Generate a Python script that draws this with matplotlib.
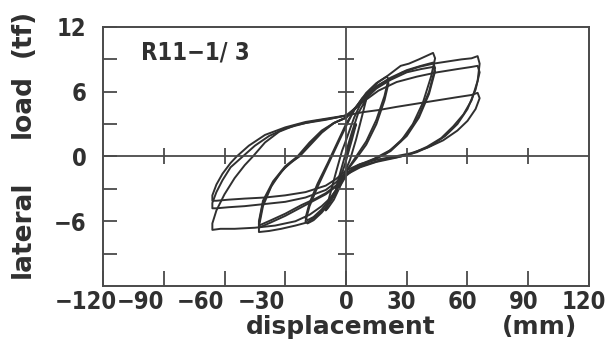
import numpy as np
import matplotlib
matplotlib.use("Agg")
import matplotlib.pyplot as plt
from matplotlib.ticker import FixedLocator
from matplotlib.transforms import ScaledTranslation

# hysteresis cycles: displacement (mm), lateral load (tf)
c1_x = [0, 2, 4, 5, 3, 0, -2, -4, -5, -3, 0]
c1_y = [0, 1.4, 2.6, 3.0, 1.6, -0.4, -1.6, -2.6, -3.0, -1.6, 0.4]

c2_x = [0, 3, 6, 9, 10, 8, 5, 2, 0, -3, -6, -9, -10, -8, -5, -2, 0]
c2_y = [0.4, 2.3, 4.0, 5.0, 5.3, 3.8, 1.6, -0.3, -1.2, -2.8, -4.0, -4.8, -5.0, -3.6, -1.5, 0.5, 1.5]

c3_x = [0, 4, 8, 12, 16, 20, 21, 19, 15, 10, 5, 0, -4, -8, -12, -16, -19, -20, -18, -14, -9, -5, -2, 0]
c3_y = [1.5, 3.6, 5.2, 6.2, 6.9, 7.4, 7.2, 5.6, 3.4, 1.4, 0.0, -1.4, -3.0, -4.3, -5.2, -5.9, -6.2, -6.0,
        -4.6, -2.8, -0.8, 0.8, 2.0, 2.8]

c4_x = [0, 4, 8, 12, 16, 20, 21, 19, 15, 10, 5, 0, -4, -8, -12, -16, -19, -20, -18, -14, -9, -5, -2, 0]
c4_y = [2.8, 4.3, 5.4, 6.1, 6.6, 7.0, 6.8, 5.2, 3.0, 1.1, -0.2, -1.4, -2.8, -4.0, -4.9, -5.6, -5.9, -5.7,
        -4.3, -2.5, -0.6, 1.0, 2.2, 3.0]

c5_x = [0, 5, 10, 15, 20, 27, 31, 36, 43, 44, 42, 38, 33, 27, 20, 12, 5, 0,
        -5, -10, -15, -19, -25, -32, -38, -43, -43, -41, -37, -32, -27, -23, -18, -12, -6, 0]
c5_y = [3.0, 4.6, 5.9, 6.8, 7.4, 8.4, 8.6, 9.0, 9.6, 9.1, 7.4, 5.0, 3.0, 1.4, 0.3, -0.4, -1.0, -1.8,
        -3.4, -4.7, -5.6, -6.1, -6.4, -6.7, -6.9, -7.0, -6.5, -4.6, -2.8, -1.4, -0.5, 0.0, 1.0, 2.2, 3.1, 3.6]

c6_x = [0, 5, 10, 15, 22, 30, 37, 43, 44, 41, 36, 30, 22, 14, 6, 0,
        -5, -10, -15, -22, -30, -37, -43, -43, -41, -36, -30, -24, -18, -12, -6, 0]
c6_y = [3.6, 4.6, 5.6, 6.5, 7.3, 8.0, 8.4, 8.7, 8.2, 6.0, 3.8, 2.0, 0.6, -0.2, -0.8, -1.6,
        -2.8, -3.5, -4.0, -4.7, -5.5, -6.1, -6.6, -6.2, -4.3, -2.4, -1.0, -0.1, 1.2, 2.3, 3.1, 3.6]

c7_x = [0, 5, 10, 15, 22, 30, 37, 43, 44, 41, 36, 30, 22, 14, 6, 0,
        -5, -10, -15, -22, -30, -37, -43, -43, -41, -36, -30, -24, -18, -12, -6, 0]
c7_y = [3.6, 4.5, 5.4, 6.3, 7.1, 7.8, 8.1, 8.3, 7.9, 5.8, 3.6, 1.9, 0.5, -0.3, -0.9, -1.6,
        -2.7, -3.4, -3.9, -4.5, -5.3, -5.9, -6.4, -6.0, -4.1, -2.3, -0.9, 0.0, 1.3, 2.4, 3.1, 3.6]

c8_x = [0, 6, 12, 20, 28, 36, 43, 50, 57, 62, 65, 66, 65, 62, 58, 53, 47, 40, 33, 25, 15, 7, 0,
        -4, -8, -12, -18, -25, -35, -45, -55, -62, -66, -66, -64, -60, -55, -50, -46, -40, -33, -25, -15, -5, 0]
c8_y = [3.6, 4.8, 6.0, 7.0, 7.8, 8.3, 8.6, 8.8, 9.0, 9.1, 9.3, 8.6, 7.0, 5.2, 3.9, 2.8, 1.7, 0.9, 0.3, -0.1, -0.5, -1.0, -1.7,
        -2.9, -3.9, -4.6, -5.4, -6.0, -6.4, -6.6, -6.7, -6.7, -6.8, -6.2, -5.0, -3.5, -2.0, -0.8, 0.0, 1.3, 2.3, 2.9, 3.3, 3.6, 3.8]

c9_x = [0, 8, 16, 25, 35, 45, 55, 62, 65, 66, 64, 60, 55, 49, 42, 35, 27, 18, 9, 0,
        -5, -10, -20, -30, -40, -50, -58, -64, -66, -66, -64, -61, -57, -51, -45, -38, -30, -20, -10, 0]
c9_y = [3.8, 5.0, 6.1, 6.9, 7.4, 7.8, 8.1, 8.3, 8.4, 7.8, 6.2, 4.4, 3.0, 1.9, 1.0, 0.4, 0.0, -0.3, -0.8, -1.5,
        -2.4, -3.1, -3.8, -4.2, -4.4, -4.6, -4.7, -4.8, -4.8, -4.3, -3.3, -2.2, -1.0, 0.0, 1.0, 1.9, 2.6, 3.1, 3.4, 3.8]

c10_x = [0, 8, 16, 25, 35, 45, 55, 62, 65, 66, 64, 60, 55, 48, 40, 32, 24, 15, 7, 0,
         -5, -10, -20, -30, -40, -50, -58, -64, -66, -66, -64, -61, -57, -54, -48, -40, -30, -20, -10, 0]
c10_y = [3.8, 4.1, 4.3, 4.6, 4.9, 5.2, 5.5, 5.7, 5.9, 5.4, 4.4, 3.3, 2.4, 1.5, 0.8, 0.3, 0.0, -0.3, -0.7, -1.3,
         -2.1, -2.7, -3.3, -3.6, -3.8, -3.9, -4.0, -4.1, -4.1, -3.6, -2.6, -1.6, -0.6, 0.0, 1.0, 2.0, 2.7, 3.2, 3.5, 3.8]

cycles = [(c1_x, c1_y), (c2_x, c2_y), (c3_x, c3_y), (c4_x, c4_y), (c5_x, c5_y),
          (c6_x, c6_y), (c7_x, c7_y), (c8_x, c8_y), (c9_x, c9_y), (c10_x, c10_y)]

x_ticks = [-120, -90, -60, -30, 0, 30, 60, 90, 120]
x_labels = ["\u2212120", "\u221290", "\u221260", "\u221230", "0", "30", "60", "90", "120"]
y_ticks = [-6, 0, 6, 12]
y_labels = ["\u22126", "0", "6", "12"]
y_minor = [-9, -3, 3, 9]

ink = "#303030"
frame = "#4a4a4a"
num_font = dict(family="DejaVu Sans", stretch="condensed", weight="bold", size=17, color=ink)

fig = plt.figure(figsize=(6.15, 3.58), dpi=100)
ax = fig.add_axes([0.1675, 0.2011, 0.7902, 0.7235])

for cx, cy in cycles:
    ax.plot(cx, cy, color=ink, lw=1.4, solid_joinstyle="round")

ax.set_xlim(-120, 120)
ax.set_ylim(-12, 12)

ax.axhline(0, color=frame, lw=1.3)
ax.axvline(0, color=frame, lw=1.3)
for s in ax.spines.values():
    s.set_color(frame)
    s.set_linewidth(1.4)

# crossing ticks on the zero lines
inner_x = [t for t in x_ticks if abs(t) not in (0, 120)]
inner_y = [-9, -6, -3, 3, 6, 9]
ax.plot(inner_x, [0] * len(inner_x), ls="none", marker="|", ms=11, mew=1.3, color=frame)
ax.plot([0] * len(inner_y), inner_y, ls="none", marker="_", ms=12, mew=1.3, color=frame)

ax.set_xticks(x_ticks)
ax.set_xticklabels(x_labels)
ax.set_yticks(y_ticks)
ax.set_yticklabels(y_labels)
ax.yaxis.set_minor_locator(FixedLocator(y_minor))
ax.tick_params(axis="x", direction="in", length=11, width=1.3, color=frame, pad=3, top=False)
ax.tick_params(axis="y", which="both", direction="in", length=10, width=1.3, color=frame, pad=12, right=False)
for lab in ax.get_xticklabels() + ax.get_yticklabels():
    lab.set_fontfamily(num_font["family"])
    lab.set_fontstretch(num_font["stretch"])
    lab.set_fontweight(num_font["weight"])
    lab.set_fontsize(num_font["size"])
    lab.set_color(ink)
for lab, t in zip(ax.get_xticklabels(), x_ticks):
    if t < 0:
        lab.set_ha("right")
    if t == -120:
        lab.set_transform(lab.get_transform() + ScaledTranslation(14 / 100, 0, fig.dpi_scale_trans))
    elif t > 0:
        lab.set_transform(lab.get_transform() + ScaledTranslation(-5 / 100, 0, fig.dpi_scale_trans))

ax.text(-101, 9.6, "R11\u22121/ 3", fontdict=num_font, va="center", ha="left")

lab_font = dict(family="DejaVu Sans", weight="bold", size=19, color=ink)
sub_font = dict(family="DejaVu Sans", weight="semibold", size=18, color=ink)
fig.text(341 / 615, 1 - 327 / 358, "displacement", fontdict=sub_font, ha="center", va="center")
fig.text(540 / 615, 1 - 327 / 358, "(mm)", fontdict=sub_font, ha="center", va="center")
fig.text(23 / 615, 1 - 229 / 358, "lateral", fontdict=lab_font, rotation=90, ha="center", va="center")
fig.text(23 / 615, 1 - 106 / 358, "load", fontdict=lab_font, rotation=90, ha="center", va="center")
fig.text(23 / 615, 1 - 33 / 358, "(tf)", fontdict=lab_font, rotation=90, ha="center", va="center")

fig.savefig("out.png", dpi=100)
